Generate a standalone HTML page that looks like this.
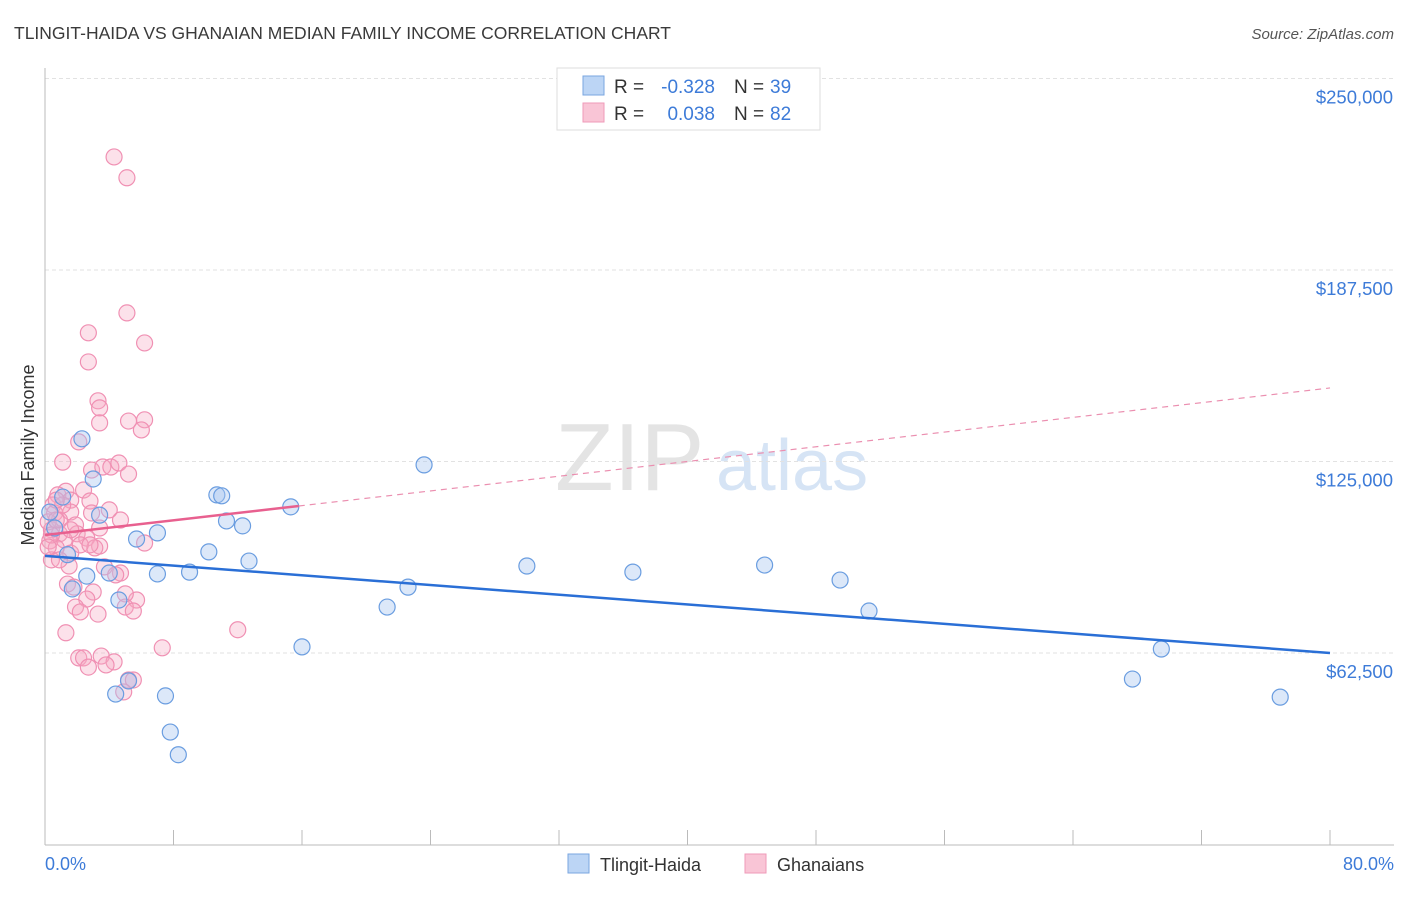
<!DOCTYPE html>
<html><head><meta charset="utf-8"><style>
body{margin:0;background:#fff;font-family:"Liberation Sans",sans-serif;}
svg text{font-family:"Liberation Sans",sans-serif;}
</style></head><body>
<svg id="chart" width="1406" height="892">
<text x="14" y="39" font-size="17.5" fill="#3a3a3a">TLINGIT-HAIDA VS GHANAIAN MEDIAN FAMILY INCOME CORRELATION CHART</text>
<text x="1394" y="39" font-size="15" fill="#555" font-style="italic" text-anchor="end">Source: ZipAtlas.com</text>
<text x="555" y="490" font-size="96" fill="#e4e4e4" font-family="Liberation Serif">ZIP</text>
<text x="716" y="490" font-size="72" fill="#d6e4f5">atlas</text>
<g id="grid"></g><g id="axes"></g><g id="marks"></g>
<text x="34" y="455" font-size="18" fill="#333" text-anchor="middle" transform="rotate(-90 34 455)">Median Family Income</text>
<text x="45" y="870" font-size="18" fill="#3d7bd8">0.0%</text>
<text x="1394" y="870" font-size="18" fill="#3d7bd8" text-anchor="end">80.0%</text>
<g>
<rect x="557" y="68" width="263" height="62" fill="#fff" stroke="#ddd"/>
<rect x="583" y="76" width="21" height="19" fill="#bcd5f5" stroke="#7aa6e0"/>
<rect x="583" y="103" width="21" height="19" fill="#f9c5d6" stroke="#ef9ab8"/>
<text x="614" y="93" font-size="19" fill="#333">R =</text>
<text x="715" y="93" font-size="19" fill="#3d7bd8" text-anchor="end">-0.328</text>
<text x="734" y="93" font-size="19" fill="#333">N =</text>
<text x="770" y="93" font-size="19" fill="#3d7bd8">39</text>
<text x="614" y="120" font-size="19" fill="#333">R =</text>
<text x="715" y="120" font-size="19" fill="#3d7bd8" text-anchor="end">0.038</text>
<text x="734" y="120" font-size="19" fill="#333">N =</text>
<text x="770" y="120" font-size="19" fill="#3d7bd8">82</text>
</g>
<g>
<rect x="568" y="854" width="21" height="19" fill="#bcd5f5" stroke="#7aa6e0"/>
<text x="600" y="871" font-size="18" fill="#333">Tlingit-Haida</text>
<rect x="745" y="854" width="21" height="19" fill="#f9c5d6" stroke="#ef9ab8"/>
<text x="777" y="871" font-size="18" fill="#333">Ghanaians</text>
</g>
</svg>
<script>
const yTicks=[62500,125000,187500,250000];
const yTickLabels=["$62,500","$125,000","$187,500","$250,000"];
const blueX=[2.3,3.0,1.1,3.4,0.6,2.6,1.7,4.0,5.7,7.0,4.6,7.0,9.0,10.2,10.7,11.0,11.3,12.3,12.7,15.3,16.0,21.3,22.6,23.6,30.0,36.6,44.8,49.5,51.3,67.7,69.5,76.9,7.5,5.2,4.4,7.8,8.3,0.3,1.4];
const blueY=[132.4,119.3,113.4,107.5,103.3,87.6,83.4,88.6,99.7,101.7,79.8,88.3,88.9,95.5,114.1,113.8,105.6,104.0,92.5,110.2,64.5,77.5,84.0,123.9,90.9,88.9,91.2,86.3,76.2,54.0,63.8,48.1,48.5,53.4,49.1,36.7,29.3,108.5,94.6];
const pinkX=[4.3,5.1,5.1,2.7,6.2,2.7,3.3,3.4,3.4,5.2,6.2,6.0,2.1,1.1,2.9,3.6,4.1,4.6,5.2,1.3,2.4,0.8,1.6,2.8,0.5,0.6,1.6,2.9,4.7,0.9,1.9,3.4,0.4,0.9,2.0,2.6,1.2,0.3,3.4,3.1,6.2,0.7,1.6,0.4,3.7,1.5,4.7,1.4,1.8,3.0,2.6,5.7,5.0,1.9,2.2,3.3,5.0,5.5,1.3,12.0,7.3,2.1,2.4,3.5,4.3,2.7,3.8,5.2,5.5,4.9,0.2,0.4,0.7,1.1,0.2,0.7,1.6,2.2,4.0,4.4,0.9,2.8];
const pinkY=[224.4,217.6,173.5,167.0,163.7,157.5,144.8,142.5,137.6,138.2,138.6,135.3,131.4,124.8,122.2,123.2,123.2,124.5,120.9,115.3,115.7,114.1,112.4,112.1,110.8,108.2,108.5,108.2,105.9,105.9,104.3,103.3,102.7,101.4,101.4,100.0,99.4,99.1,97.4,96.8,98.4,96.8,95.1,92.9,90.6,90.9,88.6,85.0,84.0,82.4,80.1,79.8,81.8,77.5,75.9,75.2,77.5,76.2,69.1,70.1,64.2,60.9,60.9,61.5,59.6,57.9,58.6,53.7,53.7,49.8,105.3,101.0,105.9,110.8,97.1,112.4,102.7,97.8,109.2,88.0,92.9,97.8];
const blueTrend=[94.2,62.5];
const pinkTrend=[101,149];
const pinkSolidEnd=15.8;
const NS="http://www.w3.org/2000/svg";
const sx=v=>45+v*(1285/80);
const sy=v=>844.5-v*1000*(191.5/62500);
function mk(tag,attrs,parent){const e=document.createElementNS(NS,tag);for(const k in attrs)e.setAttribute(k,attrs[k]);parent.appendChild(e);return e;}
const grid=document.getElementById('grid'),axes=document.getElementById('axes'),marks=document.getElementById('marks');
yTicks.forEach((t,i)=>{
 const l=mk('line',{x1:45,x2:1394,y1:sy(t/1000),y2:sy(t/1000),stroke:'#e2e2e2','stroke-dasharray':'4,3'},grid);
 
 
 const tx=mk('text',{x:1393,y:sy(t/1000)+25,'font-size':18.5,fill:'#3d7bd8','text-anchor':'end'},axes);
 tx.textContent=yTickLabels[i];
 
 
});
const ax=mk('line',{x1:45,x2:1394,y1:845,y2:845,stroke:'#bbb'},axes);


const ay=mk('line',{x1:45,x2:45,y1:68,y2:845,stroke:'#bbb'},axes);


for(let i=0;i<=10;i++){const t=mk('line',{x1:sx(i*8),x2:sx(i*8),y1:830,y2:845,stroke:'#bbb'},axes);
 
 }
function dot(x,y,fill,stroke,name){const c=mk('circle',{cx:sx(x),cy:sy(y),r:8,fill:fill,stroke:stroke,'stroke-width':1.2},marks);
 
 }
pinkX.forEach((x,i)=>dot(x,pinkY[i],'rgba(246,168,196,0.35)','#f090b3','ghanaians-point'));
blueX.forEach((x,i)=>dot(x,blueY[i],'rgba(168,198,240,0.4)','#6a9de0','tlingit-haida-point'));
const pv=x=>pinkTrend[0]+(pinkTrend[1]-pinkTrend[0])*x/80;
const pd=mk('line',{x1:sx(pinkSolidEnd),y1:sy(pv(pinkSolidEnd)),x2:sx(80),y2:sy(pinkTrend[1]),stroke:'#eb8fb0','stroke-width':1.2,'stroke-dasharray':'6,5'},marks);


const ps=mk('line',{x1:sx(0),y1:sy(pinkTrend[0]),x2:sx(pinkSolidEnd),y2:sy(pv(pinkSolidEnd)),stroke:'#e8608f','stroke-width':2.5},marks);


const bl=mk('line',{x1:sx(0),y1:sy(blueTrend[0]),x2:sx(80),y2:sy(blueTrend[1]),stroke:'#2a6fd6','stroke-width':2.5},marks);


</script>
</body></html>
